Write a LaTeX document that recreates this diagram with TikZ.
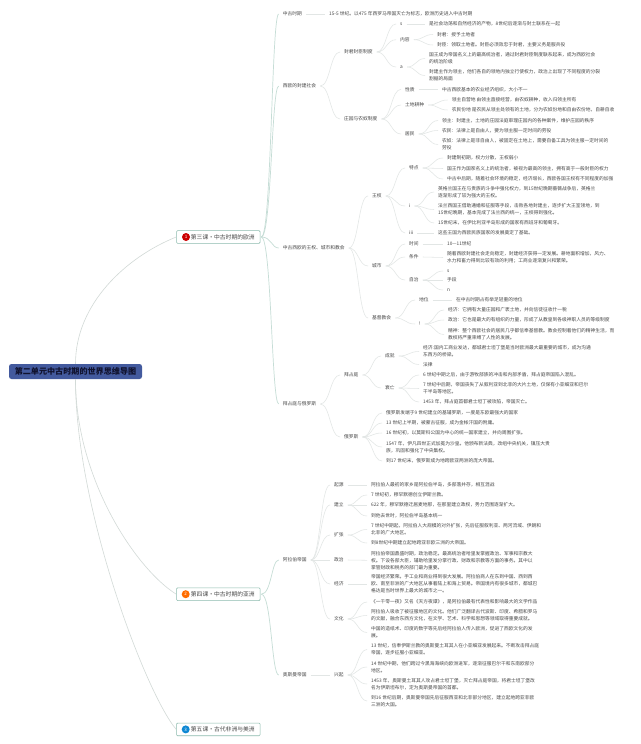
\documentclass[tikz,border=0pt]{standalone}
\usepackage{fontspec}
\setmainfont{Noto Sans CJK SC}
\usetikzlibrary{calc}
\definecolor{ink}{HTML}{484848}
\definecolor{lnkA}{HTML}{E2E6E5}
\definecolor{lnkB}{HTML}{C6DDD6}
\definecolor{lnkR}{HTML}{D2DAD7}
\definecolor{rootfill}{HTML}{435A9E}
\definecolor{rootink}{HTML}{10122E}
\definecolor{boxline}{HTML}{8DBBAE}
\tikzset{
  txt/.style={anchor=west,inner sep=0pt,align=left,text=ink,font=\fontsize{4.75}{7}\selectfont},
  lnk/.style={draw=lnkA,line width=0.55pt,shorten <=4pt,shorten >=4pt},
  mainlnk/.style={draw=lnkB,line width=0.7pt,shorten <=1pt,shorten >=4pt},
  rootlnk/.style={draw=lnkR,line width=0.6pt},
  rootbox/.style={rectangle,rounded corners=2.5pt,fill=rootfill,minimum width=133pt,minimum height=15pt,inner sep=0pt,text=rootink,font=\fontsize{8.1}{10}\selectfont\bfseries},
  lesson/.style={rectangle,rounded corners=1pt,draw=boxline,line width=0.6pt,fill=white,minimum width=83.5pt,minimum height=12.7pt,inner sep=0pt,text=ink,font=\fontsize{5.8}{7}\selectfont},
  badge/.style={circle,minimum size=8pt,inner sep=0pt,text=white,font=\fontsize{4.5}{5}\selectfont}
}
\newcommand\Nd[4]{\node[txt] (#1) at (#2,#3) {#4};}
\newcommand\Ln[2]{\draw[lnk] let \p1=(#1.east),\p2=(#2.west),\n1={0.5*(\x2-\x1)} in (#1.east) .. controls +(\n1,0) and +(-\n1,0) .. (#2.west);}
\newcommand\Mn[2]{\draw[mainlnk] let \p1=(#1.east),\p2=(#2.west),\n1={0.5*(\x2-\x1)} in (#1.east) .. controls +(\n1,0) and +(-\n1,0) .. (#2.west);}
\begin{document}
\begin{tikzpicture}[x=1pt,y=-1pt]
\useasboundingbox (0,0) rectangle (640,744);
\fill[white] (0,0) rectangle (640,744);
% root and lessons
\node[rootbox] (root) at (75.5,371.5) {第二单元中古时期的世界思维导图};
\node[lesson] (b1) at (218.3,237) {\hspace*{9pt}第三课·中古时期的欧洲};
\node[lesson] (b2) at (218.3,594.2) {\hspace*{9pt}第四课·中古时期的亚洲};
\node[lesson] (b3) at (218.3,729.4) {\hspace*{9pt}第五课·古代非洲与美洲};
\node[badge,fill=red!80!black] (c1) at (186,237) {1};
\node[badge,fill=orange!85!red] (c2) at (185.7,594.2) {2};
\node[badge,fill=cyan!70!blue] (c3) at (185.7,729.4) {3};
\draw[rootlnk] (root.north) .. controls +(0,-60) and +(-50,20) .. (b1.west);
\draw[rootlnk] (root.south) .. controls +(0,100) and +(-40,-25) .. (b2.west);
\draw[rootlnk] (root.south) .. controls +(0,130) and +(-30,-35) .. (b3.west);
% level 2
\Nd{a1}{282.7}{14}{中古时期}
\Nd{a2}{282.7}{86}{西欧的封建社会}
\Nd{a3}{282.7}{248}{中古西欧的王权、城市和教会}
\Nd{a4}{282.7}{404}{拜占庭与俄罗斯}
\Nd{a5}{282.7}{560}{阿拉伯帝国}
\Nd{a6}{282.7}{675}{奥斯曼帝国}
\Mn{b1}{a1}\Mn{b1}{a2}\Mn{b1}{a3}\Mn{b1}{a4}\Mn{b2}{a5}\Mn{b2}{a6}
% a1
\Nd{a1t}{329}{14}{15-5 世纪。以475 年西罗马帝国灭亡为标志，欧洲历史进入中古时期}
\Ln{a1}{a1t}
% a2
\Nd{f1}{344}{52}{封君封臣制度}
\Nd{f2}{344}{119}{庄园与农奴制度}
\Ln{a2}{f1}\Ln{a2}{f2}
\Nd{g1}{400}{24}{s}
\Nd{g2}{400}{39.7}{内容}
\Nd{g3}{400}{67}{a}
\Ln{f1}{g1}\Ln{f1}{g2}\Ln{f1}{g3}
\Nd{g1a}{429}{24}{是社会动荡和自然经济的产物，8世纪后逐渐与封土联系在一起}
\Ln{g1}{g1a}
\Nd{g2a}{437}{34.5}{封君：授予土地者}
\Nd{g2b}{437}{45}{封臣：领取土地者。封臣必须效忠于封君，主要义务是服兵役}
\Ln{g2}{g2a}\Ln{g2}{g2b}
\Nd{g3a}{429}{58.5}{国王成为帝国名义上的最高统治者，通过封君封臣制度联系起来，成为西欧社会\\的统治阶级}
\Nd{g3b}{429}{75.5}{封建主作为领主，他们各自的领地内独立行使权力，政治上出现了不同程度的分裂\\割据的局面}
\Ln{g3}{g3a}\Ln{g3}{g3b}
\Nd{h1}{405}{89.3}{性质}
\Nd{h2}{405}{105}{土地耕种}
\Nd{h3}{405}{134}{居民}
\Ln{f2}{h1}\Ln{f2}{h2}\Ln{f2}{h3}
\Nd{h1a}{442}{89.3}{中古西欧基本的农业经济组织，大小不一}
\Ln{h1}{h1a}
\Nd{h2a}{451.7}{100}{领主自营地 由领主直接经营，由农奴耕种，收入归领主所有}
\Nd{h2b}{451.7}{110}{农民份地 是农民从领主处领有的土地，分为农奴份地和自由农份地，自耕自收}
\Ln{h2}{h2a}\Ln{h2}{h2b}
\Nd{h3a}{442}{120.5}{领主：封建主，土地的庄园法庭审理庄园内的各种案件，维护庄园的秩序}
\Nd{h3b}{442}{130.5}{农民：法律上是自由人，要为领主服一定时间的劳役}
\Nd{h3c}{442}{144.5}{农奴：法律上是非自由人，被固定在土地上，需要自备工具为领主服一定时间的\\劳役}
\Ln{h3}{h3a}\Ln{h3}{h3b}\Ln{h3}{h3c}
% a3
\Nd{k1}{372}{196}{王权}
\Nd{k2}{372}{266}{城市}
\Nd{k3}{372}{318}{基督教会}
\Ln{a3}{k1}\Ln{a3}{k2}\Ln{a3}{k3}
\Nd{m1}{409}{168}{特点}
\Nd{m2}{409}{206}{i}
\Nd{m3}{409}{233}{iii}
\Ln{k1}{m1}\Ln{k1}{m2}\Ln{k1}{m3}
\Nd{m1a}{447}{158}{封建制初期，权力分散，王权弱小}
\Nd{m1b}{447}{168.5}{国王作为国家名义上的统治者，被视为最高的领主，拥有高于一般封臣的权力}
\Nd{m1c}{447}{179}{中古中后期，随着社会环境的稳定，经济增长，西欧各国王权有不同程度的加强}
\Ln{m1}{m1a}\Ln{m1}{m1b}\Ln{m1}{m1c}
\Nd{m2a}{438}{192}{英格兰国王在与贵族的斗争中强化权力，到15世纪晚期蔷薇战争后，英格兰\\逐渐形成了较为强大的王权。}
\Nd{m2b}{438}{209.5}{法兰西国王借助通婚和征服等手段，击败各地封建主，逐步扩大王室领地，到\\15世纪晚期，基本完成了法兰西的统一，王权得到强化。}
\Nd{m2c}{438}{223}{15世纪末，在伊比利亚半岛形成的国家有西班牙和葡萄牙。}
\Ln{m2}{m2a}\Ln{m2}{m2b}\Ln{m2}{m2c}
\Nd{m3a}{438}{233}{这些王国为西欧民族国家的发展奠定了基础。}
\Ln{m3}{m3a}
\Nd{n1}{409}{244}{时间}
\Nd{n2}{409}{257}{条件}
\Nd{n3}{409}{280}{自治}
\Ln{k2}{n1}\Ln{k2}{n2}\Ln{k2}{n3}
\Nd{n1a}{447}{244}{10—11世纪}
\Ln{n1}{n1a}
\Nd{n2a}{447}{257.5}{随着西欧封建社会走向稳定，封建经济获得一定发展。耕地面积增加，风力、\\水力和畜力得到比较有效的利用；工商业逐渐复兴和繁荣。}
\Ln{n2}{n2a}
\Nd{n3a}{447}{271}{s}
\Nd{n3b}{447}{280}{手段}
\Nd{n3c}{447}{290}{n}
\Ln{n3}{n3a}\Ln{n3}{n3b}\Ln{n3}{n3c}
\Nd{p1}{419}{300}{地位}
\Nd{p2}{419}{324}{!}
\Ln{k3}{p1}\Ln{k3}{p2}
\Nd{p1a}{456}{300}{在中古时期占有举足轻重的地位}
\Ln{p1}{p1a}
\Nd{p2a}{448}{310}{经济：它拥有大量庄园和广袤土地，并向信徒征收什一税}
\Nd{p2b}{448}{320}{政治：它也是最大的有组织的力量，形成了从教皇到各级神职人员的等级制度}
\Nd{p2c}{448}{334.5}{精神：整个西欧社会的居民几乎都信奉基督教。教会控制着他们的精神生活，而\\教权将严重束缚了人性的发展。}
\Ln{p2}{p2a}\Ln{p2}{p2b}\Ln{p2}{p2c}
% a4
\Nd{q1}{344}{375}{拜占庭}
\Nd{q2}{344}{437}{俄罗斯}
\Ln{a4}{q1}\Ln{a4}{q2}
\Nd{r1}{385}{356}{成就}
\Nd{r2}{385}{388}{衰亡}
\Ln{q1}{r1}\Ln{q1}{r2}
\Nd{r1a}{423}{351.5}{经济:国内工商业发达，都城君士坦丁堡是当时欧洲最大最重要的城市，成为沟通\\东西方的桥梁。}
\Nd{r1b}{423}{364.5}{法律}
\Ln{r1}{r1a}\Ln{r1}{r1b}
\Nd{r2a}{423}{375}{6 世纪中期之后，由于游牧部族的冲击和内部矛盾，拜占庭帝国陷入混乱。}
\Nd{r2b}{423}{388.5}{7 世纪中后期，帝国丧失了从叙利亚到北非的大片土地，仅保有小亚细亚和巴尔\\干半岛等地区。}
\Nd{r2c}{423}{402}{1453 年，拜占庭首都君士坦丁被攻陷，帝国灭亡。}
\Ln{r2}{r2a}\Ln{r2}{r2b}\Ln{r2}{r2c}
\Nd{s1}{386}{413}{俄罗斯发端于9 世纪建立的基辅罗斯，一度是东欧最强大的国家}
\Nd{s2}{386}{423}{13 世纪上半期，被蒙古征服，成为金帐汗国的附庸。}
\Nd{s3}{386}{433}{16 世纪初，以莫斯科公国为中心的统一国家建立，并向周围扩张。}
\Nd{s4}{386}{447}{1547 年，伊凡四世正式加冕为沙皇。他颁布新法典，改组中央机关，镇压大贵\\族，巩固和强化了中央集权。}
\Nd{s5}{386}{461}{到17 世纪末，俄罗斯成为地跨欧亚两洲的庞大帝国。}
\Ln{q2}{s1}\Ln{q2}{s2}\Ln{q2}{s3}\Ln{q2}{s4}\Ln{q2}{s5}
% a5
\Nd{t1}{334}{485}{起源}
\Nd{t2}{334}{505}{建立}
\Nd{t3}{334}{535}{扩张}
\Nd{t4}{334}{560}{政治}
\Nd{t5}{334}{584}{经济}
\Nd{t6}{334}{619}{文化}
\Ln{a5}{t1}\Ln{a5}{t2}\Ln{a5}{t3}\Ln{a5}{t4}\Ln{a5}{t5}\Ln{a5}{t6}
\Nd{t1a}{371}{485}{阿拉伯人最初的家乡是阿拉伯半岛，多部落并存，相互混战}
\Ln{t1}{t1a}
\Nd{t2a}{371}{495}{7 世纪初，穆罕默德创立伊斯兰教。}
\Nd{t2b}{371}{505}{622 年，穆罕默德迁居麦地那，在那里建立政权，势力范围逐渐扩大。}
\Nd{t2c}{371}{516}{到他去世时，阿拉伯半岛基本统一}
\Ln{t2}{t2a}\Ln{t2}{t2b}\Ln{t2}{t2c}
\Nd{t3a}{371}{529.5}{7 世纪中期起，阿拉伯人大规模的对外扩张，先后征服叙利亚、两河流域、伊朗和\\北非的广大地区。}
\Nd{t3b}{371}{543}{到8世纪中期建立起地跨亚非欧三洲的大帝国。}
\Ln{t3}{t3a}\Ln{t3}{t3b}
\Nd{t4a}{371}{560.3}{阿拉伯帝国鼎盛时期，政治稳定。最高统治者哈里发掌握政治、军事和宗教大\\权。下设各部大臣，辅助哈里发分掌行政、财政和宗教等方面的事务。其中以\\掌管财政和税务的部门最为重要。}
\Ln{t4}{t4a}
\Nd{t5a}{371}{584}{帝国经济繁荣。手工业和商业得到很大发展。阿拉伯商人在东到中国、西到西\\欧、南至非洲的广大地区从事着陆上和海上贸易。帝国境内有很多城市，都城巴\\格达是当时世界上最大的城市之一。}
\Ln{t5}{t5a}
\Nd{t6a}{371}{602}{《一千零一夜》又名《天方夜谭》，是阿拉伯最有代表性和影响最大的文学作品}
\Nd{t6b}{371}{615.5}{阿拉伯人吸收了被征服地区的文化。他们广泛翻译古代波斯、印度、希腊和罗马\\的文献，融合东西方文化，在文学、艺术、科学和思想等领域取得重要成就。}
\Nd{t6c}{371}{632.5}{中国的造纸术、印度的数字等先后经阿拉伯人传入欧洲，促进了西欧文化的发\\展。}
\Ln{t6}{t6a}\Ln{t6}{t6b}\Ln{t6}{t6c}
% a6
\Nd{u1}{334}{675}{兴起}
\Ln{a6}{u1}
\Nd{u1a}{371}{649.5}{13 世纪，信奉伊斯兰教的奥斯曼土耳其人在小亚细亚发展起来。不断攻击拜占庭\\帝国，逐步征服小亚细亚。}
\Nd{u1b}{371}{667}{14 世纪中期，他们跨过今黑海海峡向欧洲进军，逐渐征服巴尔干和东南欧部分\\地区。}
\Nd{u1c}{371}{684}{1453 年，奥斯曼土耳其人攻占君士坦丁堡，灭亡拜占庭帝国，将君士坦丁堡改\\名为伊斯坦布尔，定为奥斯曼帝国的首都。}
\Nd{u1d}{371}{701}{到16 世纪后期，奥斯曼帝国先后征服西亚和北非部分地区，建立起地跨亚非欧\\三洲的大国。}
\Ln{u1}{u1a}\Ln{u1}{u1b}\Ln{u1}{u1c}\Ln{u1}{u1d}
\end{tikzpicture}
\end{document}
